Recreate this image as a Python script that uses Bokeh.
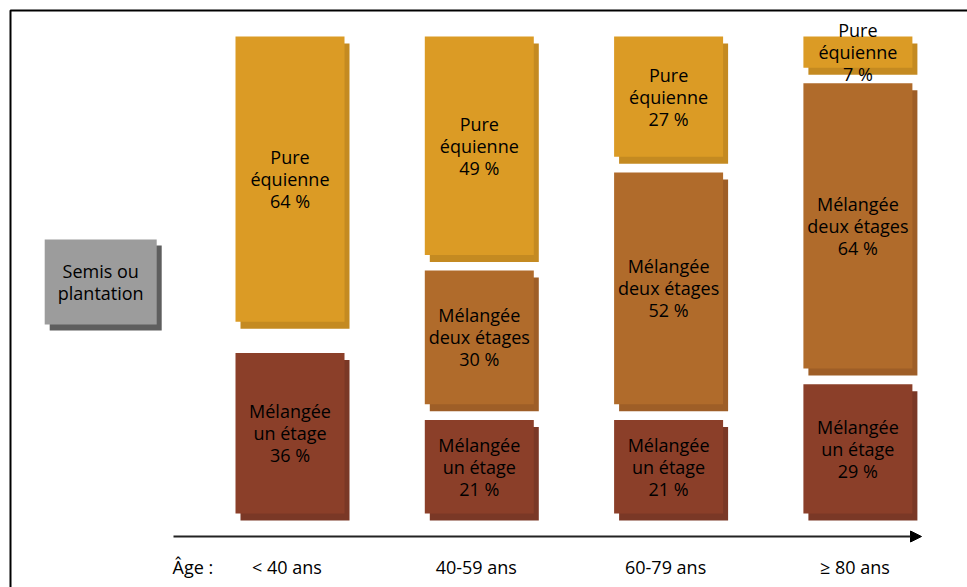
from bokeh.plotting import figure
from bokeh.models import Range1d, Arrow, NormalHead, ColumnDataSource
from bokeh.core.properties import value
from bokeh.embed import file_html
from bokeh.resources import INLINE

# ---- data ----
ages = ["< 40 ans", "40-59 ans", "60-79 ans", "≥ 80 ans"]
pure_equienne = [64, 49, 27, 7]
melangee_deux_etages = [0, 30, 52, 64]
melangee_un_etage = [36, 21, 21, 29]
series_names = [["Pure", "équienne"], ["Mélangée", "deux étages"], ["Mélangée", "un étage"]]
start_label = ["Semis ou", "plantation"]
axis_title = "Âge :"

colors = ["#DB9B25", "#B06B2B", "#8B3F29"]
shadow_colors = ["#C48A21", "#9E5E27", "#7A3826"]

W, H = 967, 587
# scales: x in column units, y in percent units (downward)
px_per_col = 189.3
x0 = 1 - 289.5 / px_per_col
px_per_pct = 4.458
y_top_px = 36.0
y_start = (H - y_top_px) / px_per_pct
y_end = -y_top_px / px_per_pct

def px2x(px):
    return x0 + px / px_per_col

def py2y(py):
    return (py - y_top_px) / px_per_pct

p = figure(width=W, height=H, x_range=Range1d(x0, x0 + W / px_per_col),
           y_range=Range1d(y_start, y_end), min_border=0,
           toolbar_location=None, output_backend="svg",
           x_axis_location=None, y_axis_location=None)
p.outline_line_color = None
p.xgrid.visible = False
p.ygrid.visible = False
p.background_fill_color = "white"
p.border_fill_color = "white"

FONT = value("Open Sans")
FS = "18px"
LH = 22

# shadow offsets
sdx = 5 / px_per_col
sdy = 7 / px_per_pct
bw = 109 / px_per_col

# frame (left and top lines)
p.line([px2x(10), px2x(10), px2x(W + 5)], [py2y(H + 5), py2y(10), py2y(10)],
       line_color="black", line_width=2)

# build stacked boxes
L, R, T, B, C, SC = [], [], [], [], [], []
tx, ty, tt, toff = [], [], [], []
total_gap = 7.0
for i, age in enumerate(ages):
    vals = [pure_equienne[i], melangee_deux_etages[i], melangee_un_etage[i]]
    present = [k for k in range(3) if vals[k] > 0]
    gap = total_gap / (len(present) - 1)
    xc = i + 1
    top = 0.0
    for k in present:
        bottom = top + vals[k]
        L.append(xc - bw / 2); R.append(xc + bw / 2)
        T.append(top); B.append(bottom)
        C.append(colors[k]); SC.append(shadow_colors[k])
        lines = series_names[k] + [f"{vals[k]} %"]
        mid = (top + bottom) / 2
        for j, ln in enumerate(lines):
            tx.append(xc); ty.append(mid); tt.append(ln); toff.append((j - 1) * LH)
        top = bottom + gap

src = ColumnDataSource(dict(left=L, right=R, top=T, bottom=B, color=C, scolor=SC,
                            sleft=[v + sdx for v in L], sright=[v + sdx for v in R],
                            stop=[v + sdy for v in T], sbottom=[v + sdy for v in B]))
p.quad(left="sleft", right="sright", top="stop", bottom="sbottom",
       fill_color="scolor", line_color=None, source=src)
p.quad(left="left", right="right", top="top", bottom="bottom",
       fill_color="color", line_color=None, source=src)

tsrc = ColumnDataSource(dict(x=tx, y=ty, text=tt, yo=toff))
p.text(x="x", y="y", text="text", y_offset="yo", source=tsrc,
       text_font=FONT, text_font_size=FS, text_color="#000000",
       text_align="center", text_baseline="middle")

# start box (Semis ou plantation)
gx = 0
gw = 112 / px_per_col
gt, gb = py2y(239), py2y(324)
p.quad(left=[gx - gw / 2 + sdx], right=[gx + gw / 2 + sdx], top=[gt + 6 / px_per_pct],
       bottom=[gb + 6 / px_per_pct], fill_color="#5E5E5E", line_color=None)
p.quad(left=[gx - gw / 2], right=[gx + gw / 2], top=[gt], bottom=[gb],
       fill_color="#9C9C9C", line_color=None)
p.text(x=[gx, gx], y=[(gt + gb) / 2] * 2, text=start_label, y_offset=[-11, 11],
       text_font=FONT, text_font_size=FS, text_color="#000000",
       text_align="center", text_baseline="middle")

# age axis arrow
p.add_layout(Arrow(end=NormalHead(size=11, fill_color="black", line_color="black"),
                   x_start=px2x(173), y_start=py2y(536), x_end=px2x(921), y_end=py2y(536),
                   line_color="#222222", line_width=2))

# axis labels
p.text(x=[i + 1 for i in range(len(ages))], y=[py2y(566)] * len(ages), text=ages,
       x_offset=-3, text_font=FONT, text_font_size=FS, text_color="#000000",
       text_align="center", text_baseline="middle")
p.text(x=[px2x(172)], y=[py2y(566)], text=[axis_title],
       text_font=FONT, text_font_size=FS, text_color="#000000",
       text_align="left", text_baseline="middle")

open("out.html", "w").write(file_html(p, INLINE))
